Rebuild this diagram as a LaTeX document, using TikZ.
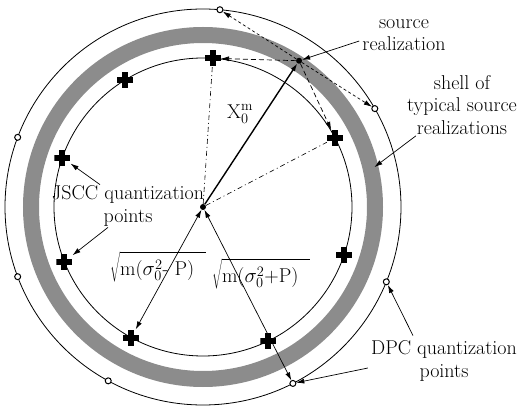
\documentclass[tikz,border=0pt]{standalone}
\usepackage{fontspec}
\usetikzlibrary{arrows.meta}
\definecolor{shellgray}{gray}{0.55}
\tikzset{
  arr/.style={-{Latex[length=8pt,width=5pt]}},
  biarr/.style={{Latex[length=8pt,width=5pt]}-{Latex[length=8pt,width=5pt]}},
  longdash/.style={dash pattern=on 5pt off 3pt},
  shortdash/.style={dash pattern=on 3pt off 2.5pt},
  dashdotted/.style={dash pattern=on 5pt off 3pt on 1pt off 3pt},
}
\begin{document}
\begin{tikzpicture}[x=1pt,y=1pt,
    font=\fontsize{20}{22.5}\selectfont,
    dot/.style={circle,fill,inner sep=0pt,minimum size=6pt},
    dpc/.style={circle,draw,fill=white,line width=1pt,inner sep=0pt,minimum size=6pt},
    jscc/.style={rectangle,inner sep=0pt,minimum size=16pt,
      path picture={
        \fill ([yshift=-3pt]path picture bounding box.west) rectangle ([yshift=3pt]path picture bounding box.east);
        \fill ([xshift=-3pt]path picture bounding box.south) rectangle ([xshift=3pt]path picture bounding box.north);
      }},
    lab/.style={align=center,inner sep=1pt}]
  \useasboundingbox (-203,-202) rectangle (316,207);

  % circles
  \draw[line width=0.8pt] (0,0) circle[radius=149pt];
  \draw[shellgray,line width=16pt] (0,0) circle[radius=172pt];
  \draw[line width=0.8pt] (0,0) circle[radius=198pt];

  % points
  \node[dot] (o) at (0,0) {};
  \node[dot] (s) at (56.7:175) {};
  \foreach \a/\n in {86.2/j1, 27.6/j2, -18.7/j3, -64/j4, -118.8/j5, -158.5/j6, 160.7/j7, 121.5/j8}
    \node[jscc] (\n) at (\a:149) {};
  \foreach \a/\n in {85.1/d1, 29.8/d2, -22.2/d3, -63/d4, -118.6/d5, -159.4/d6, 159.4/d7}
    \node[dpc] (\n) at (\a:198) {};
  \coordinate (ring) at (13.1:176);

  % radii
  \draw[arr,line width=1.4pt] (o) -- (s) node[pos=0.64,left=7pt] {$\mathrm{X}_0^{\mathrm{m}}$};
  \draw[dashdotted,line width=0.6pt] (o) -- (j1);
  \draw[dashdotted,line width=0.6pt] (o) -- (j2);
  \draw[arr,longdash,line width=0.7pt] (s) -- (j1);
  \draw[arr,longdash,line width=0.7pt] (s) -- (j2);
  \draw[arr,shortdash,line width=0.7pt] (s) -- (d1);
  \draw[arr,shortdash,line width=0.7pt] (s) -- (d2);
  \draw[biarr,line width=0.7pt] (o) -- (j5);
  \draw[biarr,line width=0.7pt] (o) -- (d4);
  \node[inner sep=0pt] (rin) at (-45,-60) {$\sqrt{\rule{0pt}{20pt}\mbox{m(}\sigma_0^2\mbox{- P)}\;\;}$};
  \node[inner sep=0pt] (rout) at (58,-67) {$\sqrt{\rule{0pt}{20pt}\mbox{m(}\sigma_0^2\mbox{+P)}\;\;}$};

  % labels
  \node[lab] (srclab) at (201,172) {source\\realization};
  \node[lab] (shell) at (259,102) {shell of\\typical source\\realizations};
  \node[lab] (jlab) at (-75,1) {JSCC quantization\\points};
  \node[lab] (dlab) at (241,-154) {DPC quantization\\points};

  \draw[arr,line width=0.7pt] ([xshift=-2pt,yshift=-6pt]srclab.west) -- (s);
  \draw[arr,line width=0.7pt] ([xshift=10pt]shell.south west) -- (ring);
  \draw[arr,line width=0.7pt] ([xshift=-28pt]jlab.north) -- (j7);
  \draw[arr,line width=0.7pt] ([xshift=-20pt]jlab.south) -- (j6);
  \draw[arr,line width=0.7pt] ([xshift=-31pt,yshift=4pt]dlab.north) -- (d3);
  \draw[arr,line width=0.7pt] ([xshift=-2pt,yshift=-7pt]dlab.west) -- (d4);
\end{tikzpicture}
\end{document}
